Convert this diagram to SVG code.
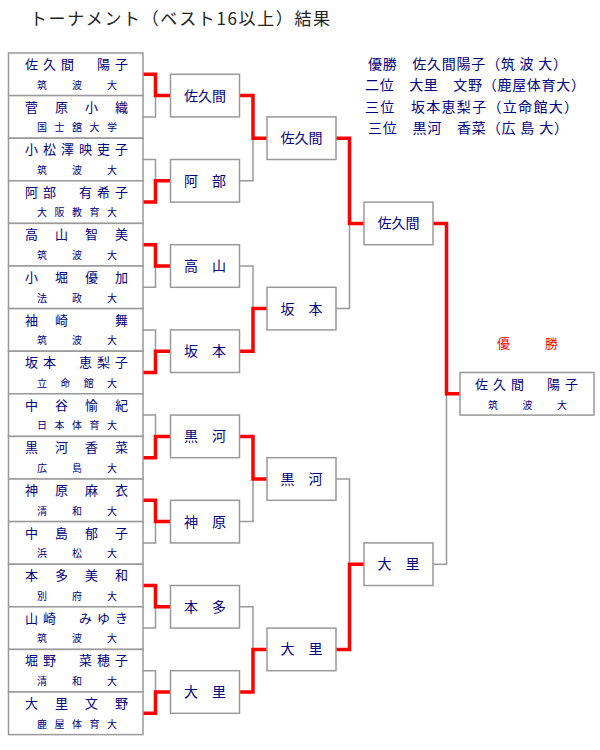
<svg xmlns="http://www.w3.org/2000/svg" width="600" height="750" viewBox="0 0 600 750">
<style>
text{font-family:"Noto Sans CJK JP","Noto Sans CJK SC",sans-serif;fill:#000080}
.title{font-size:17px;fill:#222}
.nm{font-size:13px}
.un{font-size:10px}
.rb{font-size:14px;text-anchor:middle}
.lg{font-size:14px}
.win{font-size:13px;fill:#ff0000}
.box{fill:#fff;stroke:#999;stroke-width:1.5}
.lose{fill:none;stroke:#999;stroke-width:1.5}
.won{fill:none;stroke:#ff0000;stroke-width:3.5;stroke-linejoin:miter}
</style>
<rect width="600" height="750" fill="#fff"/>
<text class="title" x="30" y="25" textLength="300" lengthAdjust="spacing">トーナメント（ベスト16以上）結果</text>
<g id="legend">
<text class="lg" x="368" y="68.5" textLength="199" lengthAdjust="spacing">優勝　佐久間陽子（筑 波 大）</text>
<text class="lg" x="365" y="90" textLength="220" lengthAdjust="spacing">二位　大里　文野（鹿屋体育大）</text>
<text class="lg" x="365" y="111.5" textLength="213" lengthAdjust="spacing">三位　坂本恵梨子（立命館大）</text>
<text class="lg" x="368" y="133" textLength="200" lengthAdjust="spacing">三位　黒河　香菜（広 島 大）</text>
</g>
<g id="connectors">
<path class="lose" d="M143,116.9H155.5V95.6M143,159.5H155.5V180.8M143,287.3H155.5V266M143,329.9H155.5V351.2M143,415.1H155.5V436.4M143,542.9H155.5V521.6M143,628.1H155.5V606.8M143,670.7H155.5V692"/>
<path class="lose" d="M239.5,180.8H253V138.2M239.5,266H253V308.6M239.5,521.6H253V479M239.5,606.8H253V649.4"/>
<path class="lose" d="M336,308.6H349.5V223.4M336,479H349.5V564.2M433,564.2H446.5V393.8"/>
<path class="won" d="M143,74.3H155.5V95.6H170.5M143,202.1H155.5V180.8H170.5M143,244.7H155.5V266H170.5M143,372.5H155.5V351.2H170.5M143,457.7H155.5V436.4H170.5M143,500.3H155.5V521.6H170.5M143,585.5H155.5V606.8H170.5M143,713.3H155.5V692H170.5"/>
<path class="won" d="M239.5,95.6H253V138.2H267M239.5,351.2H253V308.6H267M239.5,436.4H253V479H267M239.5,692H253V649.4H267"/>
<path class="won" d="M336,138.2H349.5V223.4H364M336,649.4H349.5V564.2H364M433,223.4H446.5V393.8H460"/>
</g>
<g id="p1"><rect class="box" x="8.5" y="53" width="134.5" height="42.6"/><text class="nm" x="25" y="69" textLength="103" lengthAdjust="spacing">佐久間　陽子</text><text class="un" x="37" y="88.5" textLength="80" lengthAdjust="spacing">筑　波　大</text></g>
<g id="p2"><rect class="box" x="8.5" y="95.6" width="134.5" height="42.6"/><text class="nm" x="25" y="111.6" textLength="103" lengthAdjust="spacing">菅原小織</text><text class="un" x="37" y="131.1" textLength="80" lengthAdjust="spacing">国士舘大学</text></g>
<g id="p3"><rect class="box" x="8.5" y="138.2" width="134.5" height="42.6"/><text class="nm" x="25" y="154.2" textLength="103" lengthAdjust="spacing">小松澤映吏子</text><text class="un" x="37" y="173.7" textLength="80" lengthAdjust="spacing">筑　波　大</text></g>
<g id="p4"><rect class="box" x="8.5" y="180.8" width="134.5" height="42.6"/><text class="nm" x="25" y="196.8" textLength="103" lengthAdjust="spacing">阿部　有希子</text><text class="un" x="37" y="216.3" textLength="80" lengthAdjust="spacing">大阪教育大</text></g>
<g id="p5"><rect class="box" x="8.5" y="223.4" width="134.5" height="42.6"/><text class="nm" x="25" y="239.4" textLength="103" lengthAdjust="spacing">高山智美</text><text class="un" x="37" y="258.9" textLength="80" lengthAdjust="spacing">筑　波　大</text></g>
<g id="p6"><rect class="box" x="8.5" y="266" width="134.5" height="42.6"/><text class="nm" x="25" y="282" textLength="103" lengthAdjust="spacing">小堀優加</text><text class="un" x="37" y="301.5" textLength="80" lengthAdjust="spacing">法　政　大</text></g>
<g id="p7"><rect class="box" x="8.5" y="308.6" width="134.5" height="42.6"/><text class="nm" x="25" y="324.6" textLength="103" lengthAdjust="spacing">袖崎　舞</text><text class="un" x="37" y="344.1" textLength="80" lengthAdjust="spacing">筑　波　大</text></g>
<g id="p8"><rect class="box" x="8.5" y="351.2" width="134.5" height="42.6"/><text class="nm" x="25" y="367.2" textLength="103" lengthAdjust="spacing">坂本　恵梨子</text><text class="un" x="37" y="386.7" textLength="80" lengthAdjust="spacing">立命館大</text></g>
<g id="p9"><rect class="box" x="8.5" y="393.8" width="134.5" height="42.6"/><text class="nm" x="25" y="409.8" textLength="103" lengthAdjust="spacing">中谷愉紀</text><text class="un" x="37" y="429.3" textLength="80" lengthAdjust="spacing">日本体育大</text></g>
<g id="p10"><rect class="box" x="8.5" y="436.4" width="134.5" height="42.6"/><text class="nm" x="25" y="452.4" textLength="103" lengthAdjust="spacing">黒河香菜</text><text class="un" x="37" y="471.9" textLength="80" lengthAdjust="spacing">広　島　大</text></g>
<g id="p11"><rect class="box" x="8.5" y="479" width="134.5" height="42.6"/><text class="nm" x="25" y="495" textLength="103" lengthAdjust="spacing">神原麻衣</text><text class="un" x="37" y="514.5" textLength="80" lengthAdjust="spacing">清　和　大</text></g>
<g id="p12"><rect class="box" x="8.5" y="521.6" width="134.5" height="42.6"/><text class="nm" x="25" y="537.6" textLength="103" lengthAdjust="spacing">中島郁子</text><text class="un" x="37" y="557.1" textLength="80" lengthAdjust="spacing">浜　松　大</text></g>
<g id="p13"><rect class="box" x="8.5" y="564.2" width="134.5" height="42.6"/><text class="nm" x="25" y="580.2" textLength="103" lengthAdjust="spacing">本多美和</text><text class="un" x="37" y="599.7" textLength="80" lengthAdjust="spacing">別　府　大</text></g>
<g id="p14"><rect class="box" x="8.5" y="606.8" width="134.5" height="42.6"/><text class="nm" x="25" y="622.8" textLength="103" lengthAdjust="spacing">山崎　みゆき</text><text class="un" x="37" y="642.3" textLength="80" lengthAdjust="spacing">筑　波　大</text></g>
<g id="p15"><rect class="box" x="8.5" y="649.4" width="134.5" height="42.6"/><text class="nm" x="25" y="665.4" textLength="103" lengthAdjust="spacing">堀野　菜穂子</text><text class="un" x="37" y="684.9" textLength="80" lengthAdjust="spacing">清　和　大</text></g>
<g id="p16"><rect class="box" x="8.5" y="692" width="134.5" height="42.6"/><text class="nm" x="25" y="708" textLength="103" lengthAdjust="spacing">大里文野</text><text class="un" x="37" y="727.5" textLength="80" lengthAdjust="spacing">鹿屋体育大</text></g>
<g id="r1-1"><rect class="box" x="170.5" y="74.3" width="69" height="42.6"/><text class="rb" x="205" y="100.6">佐久間</text></g>
<g id="r1-2"><rect class="box" x="170.5" y="159.5" width="69" height="42.6"/><text class="rb" x="205" y="185.8">阿　部</text></g>
<g id="r1-3"><rect class="box" x="170.5" y="244.7" width="69" height="42.6"/><text class="rb" x="205" y="271">高　山</text></g>
<g id="r1-4"><rect class="box" x="170.5" y="329.9" width="69" height="42.6"/><text class="rb" x="205" y="356.2">坂　本</text></g>
<g id="r1-5"><rect class="box" x="170.5" y="415.1" width="69" height="42.6"/><text class="rb" x="205" y="441.4">黒　河</text></g>
<g id="r1-6"><rect class="box" x="170.5" y="500.3" width="69" height="42.6"/><text class="rb" x="205" y="526.6">神　原</text></g>
<g id="r1-7"><rect class="box" x="170.5" y="585.5" width="69" height="42.6"/><text class="rb" x="205" y="611.8">本　多</text></g>
<g id="r1-8"><rect class="box" x="170.5" y="670.7" width="69" height="42.6"/><text class="rb" x="205" y="697">大　里</text></g>
<g id="r2-1"><rect class="box" x="267" y="116.9" width="69" height="42.6"/><text class="rb" x="301.5" y="143.2">佐久間</text></g>
<g id="r2-2"><rect class="box" x="267" y="287.3" width="69" height="42.6"/><text class="rb" x="301.5" y="313.6">坂　本</text></g>
<g id="r2-3"><rect class="box" x="267" y="457.7" width="69" height="42.6"/><text class="rb" x="301.5" y="484">黒　河</text></g>
<g id="r2-4"><rect class="box" x="267" y="628.1" width="69" height="42.6"/><text class="rb" x="301.5" y="654.4">大　里</text></g>
<g id="r3-1"><rect class="box" x="364" y="202.1" width="69" height="42.6"/><text class="rb" x="398.5" y="228.4">佐久間</text></g>
<g id="r3-2"><rect class="box" x="364" y="542.9" width="69" height="42.6"/><text class="rb" x="398.5" y="569.2">大　里</text></g>
<g id="champion">
<text class="win" x="497" y="347.5">優</text><text class="win" x="545" y="347.5">勝</text>
<rect class="box" x="460" y="372.5" width="134" height="42.6"/>
<text class="nm" x="475" y="388.5" textLength="103" lengthAdjust="spacing">佐久間　陽子</text>
<text class="un" x="488" y="408.5" textLength="79" lengthAdjust="spacing">筑　波　大</text>
</g>
</svg>
